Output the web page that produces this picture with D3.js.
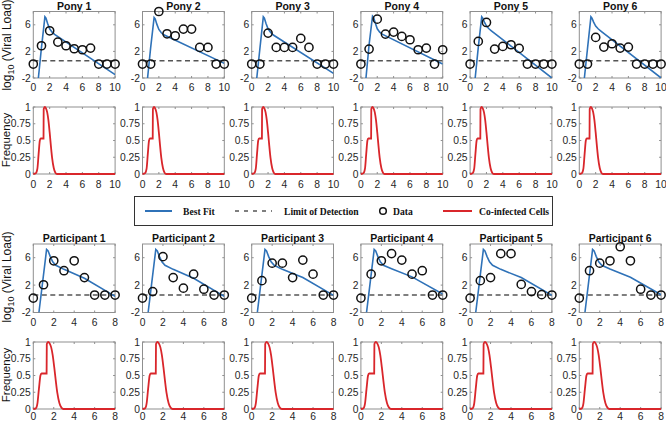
<!DOCTYPE html>
<html><head><meta charset="utf-8">
<script src="https://cdn.jsdelivr.net/npm/d3@7"></script>
<style>
body{margin:0;background:#fff;}
</style></head><body>
<svg id="c" width="666" height="422" font-family="Arial, 'Liberation Sans', sans-serif"></svg>
<script>
// ---------------- DATA ----------------
const ponyNames = ["Pony 1","Pony 2","Pony 3","Pony 4","Pony 5","Pony 6"];
const participantNames = ["Participant 1","Participant 2","Participant 3","Participant 4","Participant 5","Participant 6"];
const ponyDays = [0,1,2,3,4,5,6,7,8,9,10];
const participantDays = [0,1,2,3,4,5,6,7,8];
const ponyViral = [
  [0.1,2.85,5.1,3.4,2.85,2.4,2.25,2.5,0.1,0.1,0.1],
  [0.1,0.1,8.0,4.65,4.35,5.35,5.35,2.6,2.6,0.1,0.1],
  [0.1,0.1,4.75,2.6,2.6,2.6,3.95,2.6,0.1,0.1,0.1],
  [0.1,2.35,6.85,4.6,4.9,4.25,3.75,2.25,2.5,0.1,2.25],
  [0.1,3.5,6.35,2.35,2.75,3.0,2.45,0.1,0.1,0.1,0.1],
  [0.1,0.1,4.1,2.65,3.15,2.5,2.65,0.1,0.1,0.1,0.1]
];
const participantViral = [
  [0.1,2.05,5.55,4.1,5.55,3.1,0.55,0.55,0.55],
  [0.1,1.05,6.15,3.1,1.55,3.6,1.4,0.55,0.55],
  [0.1,2.65,5.2,5.2,3.1,5.65,3.6,0.55,0.55],
  [0.1,3.6,5.55,6.6,5.65,3.6,4.1,0.55,0.55],
  [0.1,2.65,3.1,6.6,6.6,2.1,1.05,0.6,0.55],
  [0.1,4.1,5.2,5.55,7.6,5.55,1.4,0.55,0.55]
];
const ponyLOD = 0.6;
const participantLOD = 0.55;
// best fit curves
const ponyFitX = [0.62,1.0,1.42,1.55,1.75,2.0,2.3,2.6,10];
const ponyFitY = [
  [-2,2.6,7.2,7.0,6.2,5.4,4.9,4.55,-1.5],
  [-2,2.6,7.1,6.9,6.1,5.3,4.8,4.5,0.2],
  [-2,2.4,7.2,7.0,6.2,5.4,4.9,4.5,-1.3],
  [-2,3.0,7.3,7.1,6.3,5.4,4.9,4.6,0.1],
  [-2,2.6,7.2,7.0,6.4,5.8,5.4,5.1,-2.0],
  [-2,2.4,7.2,7.0,6.4,5.8,5.4,5.1,-2.0]
];
const participantFitX = [0.55,0.9,1.3,1.45,1.65,1.9,2.2,3,5,8];
const participantFitY = [
  [-2,2.3,7.2,7.0,6.2,5.4,4.9,4.3,3.0,0.35],
  [-2,2.3,7.2,7.0,6.2,5.4,4.9,4.3,3.0,0.35],
  [-2,2.3,7.2,7.0,6.2,5.4,4.9,4.3,3.1,0.5],
  [-2,2.3,7.2,7.0,6.2,5.4,4.9,4.4,3.2,0.7],
  [-2,2.3,7.2,7.0,6.2,5.4,4.9,4.3,3.1,0.5],
  [-2,2.3,7.2,7.0,6.2,5.4,4.9,4.35,3.15,0.6]
];
// co-infected cells frequency curves
const ponyFreqX = [0,0.3,0.5,0.65,0.8,0.9,1.25,1.27,1.4,1.55,1.7,1.85,2.0,2.15,2.3,2.5,2.7,2.9,10];
const ponyFreqY = [0,0.01,0.08,0.3,0.5,0.53,0.53,0.97,1.0,0.98,0.92,0.8,0.62,0.42,0.24,0.09,0.02,0,0];
const participantFreqX = [0,0.25,0.4,0.55,0.7,0.8,1.3,1.32,1.45,1.6,1.75,1.9,2.05,2.2,2.35,2.55,2.75,2.95,8];
const participantFreqY = [0,0.01,0.08,0.3,0.5,0.53,0.53,0.97,1.0,0.98,0.92,0.8,0.62,0.42,0.24,0.09,0.02,0,0];
const viralTicks = [-2,2,6];
const freqTicks = [0,0.25,0.5,0.75,1];
const freqTickLabels = ["0","0.25","0.5","0.75","1"];
const ponyXTicks = [0,2,4,6,8,10];
const participantXTicks = [0,2,4,6,8];
const legendLabels = ["Best Fit","Limit of Detection","Data","Co-infected Cells"];

// ---------------- LAYOUT ----------------
const svg = d3.select("#c");
const BLUE = "#2f72b8", RED = "#d9262b", AX = "#8f8f8f", TXT = "#262626";
const colLeft = i => 33.3 + i*109.2;
const W = 81.8;
const TICKFS = "10.3px";

let clipId = 0;
function panel(i, top, bottom, xDomain, yDomain, xTicks, yTicks, yTickLabels, labelY) {
  const x = d3.scaleLinear().domain(xDomain).range([colLeft(i), colLeft(i)+W]);
  const y = d3.scaleLinear().domain(yDomain).range([bottom, top]);
  const g = svg.append("g");
  const id = "clip"+(clipId++);
  svg.append("clipPath").attr("id", id).append("rect")
    .attr("x", x.range()[0]).attr("y", top).attr("width", W).attr("height", bottom-top);
  g.append("rect").attr("x", x.range()[0]).attr("y", top).attr("width", W).attr("height", bottom-top)
    .attr("fill","none").attr("stroke",AX).attr("stroke-width",1);
  xTicks.forEach(t=>{
    g.append("line").attr("x1",x(t)).attr("x2",x(t)).attr("y1",bottom).attr("y2",bottom-2).attr("stroke",AX);
    g.append("line").attr("x1",x(t)).attr("x2",x(t)).attr("y1",top).attr("y2",top+2).attr("stroke",AX);
    g.append("text").attr("x",x(t)).attr("y",labelY).attr("text-anchor","middle")
      .attr("font-size",TICKFS).attr("fill",TXT).text(t);
  });
  yTicks.forEach((t,k)=>{
    g.append("line").attr("x1",x.range()[0]).attr("x2",x.range()[0]+2).attr("y1",y(t)).attr("y2",y(t)).attr("stroke",AX);
    g.append("line").attr("x1",x.range()[1]).attr("x2",x.range()[1]-2).attr("y1",y(t)).attr("y2",y(t)).attr("stroke",AX);
    g.append("text").attr("x",x.range()[0]-2.5).attr("y",y(t)).attr("dy","0.35em").attr("text-anchor","end")
      .attr("font-size",TICKFS).attr("fill",TXT).text(yTickLabels[k]);
  });
  return {g, x, y, clip: "url(#"+id+")"};
}

function viralBlock(names, days, viral, lod, fitX, fitY, xDomain, xTicks, top, bottom, titleY, labelY) {
  names.forEach((nm,i)=>{
    const p = panel(i, top, bottom, xDomain, [-2,8], xTicks, viralTicks, viralTicks.map(String), labelY);
    p.g.append("line").attr("x1",p.x(xDomain[0])).attr("x2",p.x(xDomain[1]))
      .attr("y1",p.y(lod)).attr("y2",p.y(lod))
      .attr("stroke","#555").attr("stroke-width",1.5).attr("stroke-dasharray","5,3.5");
    const line = d3.line().x(d=>p.x(d[0])).y(d=>p.y(d[1]));
    p.g.append("path").attr("clip-path",p.clip)
      .attr("d", line(fitX.map((xv,k)=>[xv, fitY[i][k]])))
      .attr("fill","none").attr("stroke",BLUE).attr("stroke-width",1.6);
    p.g.selectAll("circle.d").data(days.map((d,k)=>[d, viral[i][k]])).enter().append("circle")
      .attr("cx",d=>p.x(d[0])).attr("cy",d=>p.y(d[1])).attr("r",4.1)
      .attr("fill","none").attr("stroke","#111").attr("stroke-width",1.5);
    svg.append("text").attr("x",colLeft(i)+W/2).attr("y",titleY).attr("text-anchor","middle")
      .attr("font-size","10.5px").attr("font-weight","bold").attr("fill","#111").text(nm);
  });
}

function freqBlock(names, fx, fy, xDomain, xTicks, top, bottom, labelY) {
  names.forEach((nm,i)=>{
    const p = panel(i, top, bottom, xDomain, [0,1], xTicks, freqTicks, freqTickLabels, labelY);
    const line = d3.line().x(d=>p.x(d[0])).y(d=>p.y(d[1])).curve(d3.curveMonotoneX);
    p.g.append("path").attr("d", line(fx.map((xv,k)=>[xv, fy[k]])))
      .attr("fill","none").attr("stroke",RED).attr("stroke-width",1.8);
  });
}

viralBlock(ponyNames, ponyDays, ponyViral, ponyLOD, ponyFitX, ponyFitY, [0,10], ponyXTicks, 11.5, 78, 9.5, 91);
freqBlock(ponyNames, ponyFreqX, ponyFreqY, [0,10], ponyXTicks, 107, 174, 188);
viralBlock(participantNames, participantDays, participantViral, participantLOD, participantFitX, participantFitY, [0,8], participantXTicks, 244, 312.5, 241.5, 326);
freqBlock(participantNames, participantFreqX, participantFreqY, [0,8], participantXTicks, 342, 409, 420);

// y labels
function yLabel(tx, cy, fs, parts) {
  const t = svg.append("text").attr("transform",`translate(${tx},${cy}) rotate(-90)`)
    .attr("text-anchor","middle").attr("font-size",fs).attr("fill","#111");
  parts(t);
}
const vl = t=>{ t.append("tspan").text("log");
  t.append("tspan").attr("font-size","9px").attr("dy","3").text("10");
  t.append("tspan").attr("dy","-3").text(" (Viral Load)"); };
const fl = t=>t.text("Frequency");
yLabel(10.5, 45, "12px", vl); yLabel(10, 140, "11.5px", fl);
yLabel(10.5, 277, "12px", vl); yLabel(10, 375, "11.5px", fl);

// legend
const lg = svg.append("g");
lg.append("rect").attr("x",134.5).attr("y",196.5).attr("width",418).attr("height",29)
  .attr("fill","#fff").attr("stroke","#333").attr("stroke-width",1);
const ly = 211;
lg.append("line").attr("x1",145).attr("x2",172).attr("y1",ly).attr("y2",ly).attr("stroke",BLUE).attr("stroke-width",2);
lg.append("line").attr("x1",235).attr("x2",272).attr("y1",ly).attr("y2",ly).attr("stroke","#555").attr("stroke-width",1.5).attr("stroke-dasharray","4,5");
lg.append("circle").attr("cx",383).attr("cy",ly).attr("r",3.3).attr("fill","none").attr("stroke","#111").attr("stroke-width",1.5);
lg.append("line").attr("x1",443).attr("x2",472).attr("y1",ly).attr("y2",ly).attr("stroke",RED).attr("stroke-width",2);
const lx = [183, 284, 393, 479];
legendLabels.forEach((s,k)=>{
  lg.append("text").attr("x",lx[k]).attr("y",ly+3.5)
    .style("font-family","'Liberation Serif','Times New Roman',serif")
    .attr("font-weight","bold").attr("font-size","9.6px").attr("fill","#111").text(s);
});
</script>
</body></html>
